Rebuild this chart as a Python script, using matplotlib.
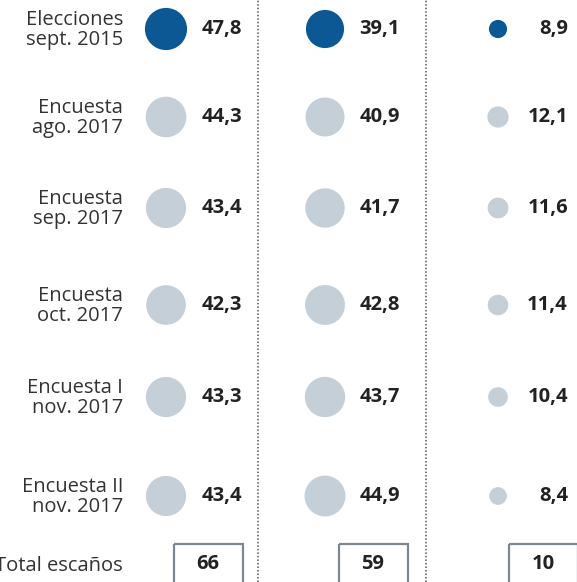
import numpy as np
import matplotlib.pyplot as plt

# filas (etiquetas) y valores por columna
rows = ["Elecciones\nsept. 2015", "Encuesta\nago. 2017", "Encuesta\nsep. 2017",
        "Encuesta\noct. 2017", "Encuesta I\nnov. 2017", "Encuesta II\nnov. 2017"]
col1 = [47.8, 44.3, 43.4, 42.3, 43.3, 43.4]
col2 = [39.1, 40.9, 41.7, 42.8, 43.7, 44.9]
col3 = [8.9, 12.1, 11.6, 11.4, 10.4, 8.4]
seats = [66, 59, 10]

# layout (pixel coords)
row_y = [29, 117, 208, 305, 397, 496]
total_y = 566
circle_x = [166, 325, 498]
value_x = [242, 400, 568]
box_cx = [208, 373, 543]
sep_x = [258, 426]

dark = "#0b5894"
light = "#c5cfd8"
txt = "#222222"
FONT = 'Open Sans'
FS = 14.5

fig = plt.figure(figsize=(5.77, 5.82), dpi=100)
fig.set_facecolor('white')
ax = fig.add_axes([0, 0, 1, 1])
ax.set_xlim(0, 577)
ax.set_ylim(582, 0)
ax.axis('off')

for x in sep_x:
    ax.axvline(x, color="#555555", linestyle=(0, (1, 1.3)), linewidth=1.1)

for i, lab in enumerate(rows):
    ax.text(123, row_y[i] + 1, lab, ha='right', va='center', fontsize=FS,
            family=FONT, color="#333333", linespacing=1.05)

for c, vals in enumerate([col1, col2, col3]):
    colors = [dark] + [light] * (len(vals) - 1)
    d = 6.1 * np.sqrt(np.array(vals))  # diameter in px
    ax.scatter([circle_x[c]] * len(vals), row_y, s=(d * 0.72) ** 2,
               c=colors, linewidths=0, zorder=3)
    for i, v in enumerate(vals):
        ax.text(value_x[c], row_y[i], f"{v:.1f}".replace('.', ','), ha='right',
                va='center', fontsize=FS, family=FONT, fontweight='bold',
                color=txt)

ax.text(123, total_y, "Total escaños", ha='right', va='center', fontsize=FS,
        family=FONT, color="#333333")
for c, s in enumerate(seats):
    ax.add_patch(plt.Rectangle((box_cx[c] - 34.5, 543.5), 69, 50, fill=False,
                               edgecolor="#7d878f", linewidth=1.6))
    ax.text(box_cx[c], total_y - 2, str(s), ha='center', va='center',
            fontsize=FS, family=FONT, fontweight='bold', color=txt)

fig.savefig("out.png", dpi=100)
